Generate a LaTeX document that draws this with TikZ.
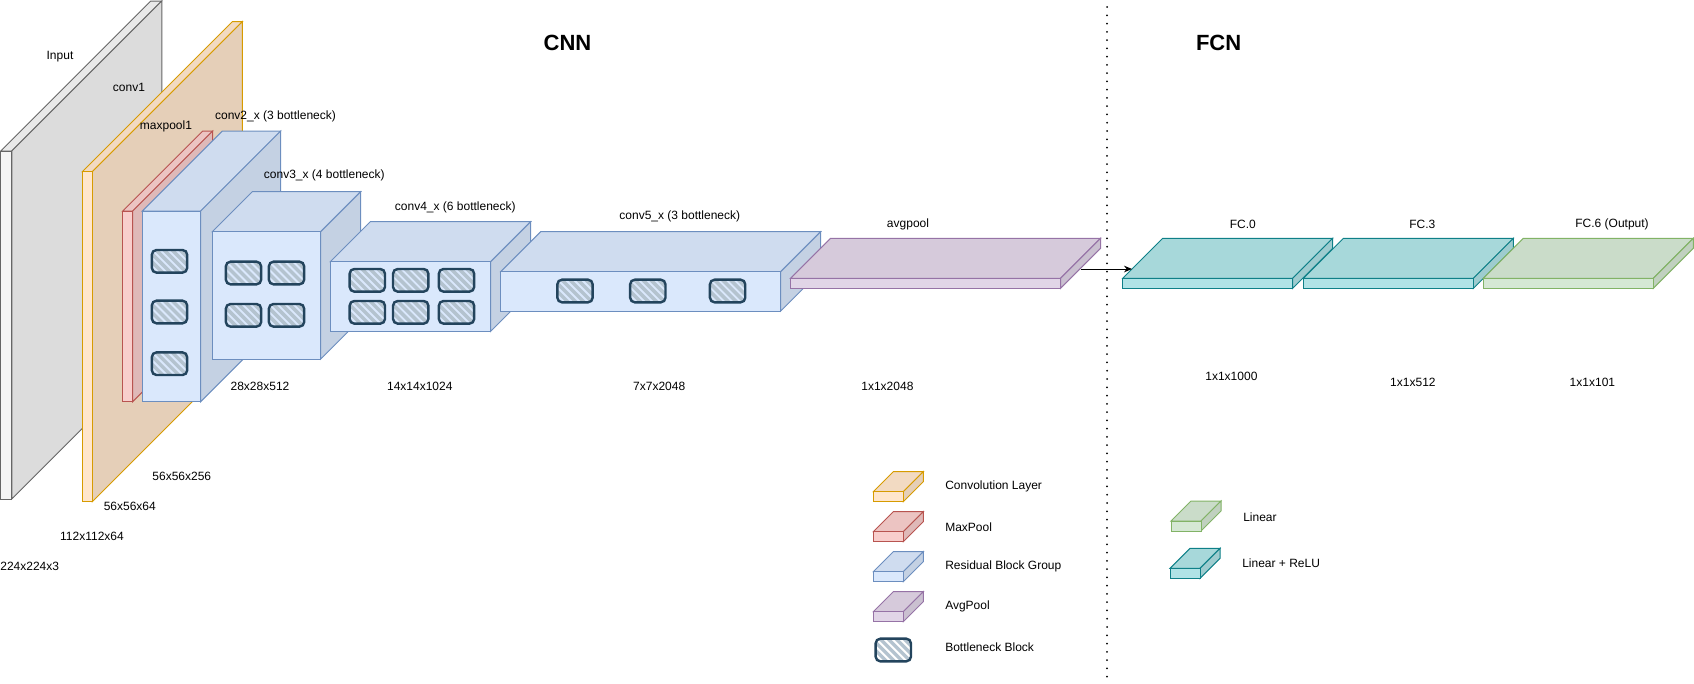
\documentclass[tikz,border=0pt]{standalone}
\usepackage{fontspec}
\setmainfont{Liberation Sans}
\usetikzlibrary{arrows.meta}
\definecolor{inputF}{HTML}{F5F5F5}\definecolor{inputS}{HTML}{666666}
\definecolor{convF}{HTML}{FFE6CC}\definecolor{convS}{HTML}{D79B00}
\definecolor{poolF}{HTML}{F8CECC}\definecolor{poolS}{HTML}{B85450}
\definecolor{resF}{HTML}{DAE8FC}\definecolor{resS}{HTML}{6C8EBF}
\definecolor{avgF}{HTML}{E1D5E7}\definecolor{avgS}{HTML}{9673A6}
\definecolor{fcF}{HTML}{B0E3E6}\definecolor{fcS}{HTML}{0E8088}
\definecolor{linF}{HTML}{D5E8D4}\definecolor{linS}{HTML}{82B366}
\definecolor{bnS}{HTML}{23445D}\definecolor{bnH}{HTML}{B4C3CF}
\tikzset{
  cubeline/.style={line width=0.75pt, line join=miter},
  cubefront/.style={rectangle, inner sep=0pt, outer sep=0pt, line width=0.75pt},
  bneckbox/.style={rectangle, rounded corners=3.5pt, draw=bnS, line width=1.8pt, inner sep=0pt, outer sep=0pt, minimum width=26.5pt, minimum height=17pt},
  stripe/.style={bnH, line width=2.6pt},
  lbl/.style={font=\fontsize{9}{10.8}\selectfont, inner sep=0pt},
  ttl/.style={font=\bfseries\fontsize{16.5}{19}\selectfont, inner sep=0pt},
  sepline/.style={line width=1.5pt, dash pattern=on 0pt off 6.2pt, line cap=round},
  conn/.style={line width=0.75pt, -{Stealth[length=6pt,width=5pt]}}
}
% #1 name, #2 x, #3 y (top-left of front face, px), #4 w, #5 h, #6 depth, #7 fill, #8 stroke
\newcommand{\cubeblk}[8]{%
  \filldraw[fill=#7!95!black, draw=#8, cubeline] (#2,#3) -- ++(#6,-#6) -- ++(#4,0) -- ++(-#6,#6) -- cycle;
  \filldraw[fill=#7!90!black, draw=#8, cubeline] (#2+#4,#3) -- ++(#6,-#6) -- ++(0,#5) -- ++(-#6,#6) -- cycle;
  \node[cubefront, fill=#7, draw=#8, minimum width=#4*0.75pt, minimum height=#5*0.75pt, anchor=north west] (#1) at (#2,#3) {};
}
% bottleneck block: #1 name, #2 cx, #3 cy
\newcommand{\bneck}[3]{%
  \begin{scope}
    \clip[rounded corners=3.5pt] (#2-17.6,#3-11.3) rectangle (#2+17.6,#3+11.3);
    \foreach \k in {-6,...,4} \draw[stripe] (#2+\k*8,#3-14) -- ++(28,28);
  \end{scope}
  \node[bneckbox] (#1) at (#2,#3) {};
}
\begin{document}
\begin{tikzpicture}[x=0.75pt, y=-0.75pt]
\useasboundingbox (0,0) rectangle (1694,683);

% separator
\draw[sepline] (1107,7) -- (1107,683);

% CNN part
\cubeblk{input}{0.75}{151}{11}{348}{150}{inputF}{inputS}
\cubeblk{conv1}{82.3}{171.7}{10}{330}{150}{convF}{convS}
\cubeblk{maxpool}{122.7}{211}{10}{190.7}{80}{poolF}{poolS}
\cubeblk{conv2}{142.3}{211}{58.4}{190.7}{80}{resF}{resS}
\bneck{b21}{169.5}{261.3}
\bneck{b22}{169.5}{312}
\bneck{b23}{169.5}{363.7}
\cubeblk{conv3}{212.3}{231.7}{108.4}{127.3}{40}{resF}{resS}
\bneck{b31}{243.5}{273}
\bneck{b32}{286.5}{273}
\bneck{b33}{243.5}{315.3}
\bneck{b34}{286.5}{315.3}
\cubeblk{conv4}{330.3}{261.7}{160.4}{69.6}{40}{resF}{resS}
\bneck{b41}{367.3}{280.3}
\bneck{b42}{410.7}{280.3}
\bneck{b43}{456.5}{280.3}
\bneck{b44}{367.3}{312.3}
\bneck{b45}{410.7}{312.3}
\bneck{b46}{456.5}{312.3}
\cubeblk{conv5}{500.7}{271.7}{280}{39.3}{40}{resF}{resS}
\bneck{b51}{575}{291}
\bneck{b52}{647.8}{291}
\bneck{b53}{727.6}{291}
\cubeblk{avgpool}{790.5}{278.3}{270}{10}{40}{avgF}{avgS}

% FCN part
\cubeblk{fc0}{1122.7}{278.3}{170}{10}{40}{fcF}{fcS}
\cubeblk{fc3}{1303.4}{278.3}{170}{10}{40}{fcF}{fcS}
\cubeblk{fc6}{1483.3}{278.3}{170}{10}{40}{linF}{linS}

% connector
\coordinate (avgout) at (1081,269);
\coordinate (fcin) at (1132,269);
\draw[conn] (avgout) -- (fcin);

% titles
\node[ttl] (tcnn) at (567.5,43.3) {CNN};
\node[ttl] (tfcn) at (1218.6,43.3) {FCN};

% layer labels
\node[lbl] (linput) at (60,56.7) {Input};
\node[lbl] (lconv1) at (129,87.3) {conv1};
\node[lbl] (lmaxpool) at (166,126.7) {maxpool1};
\node[lbl] (lconv2) at (275.5,116.7) {conv2\_x (3 bottleneck)};
\node[lbl] (lconv3) at (324.3,175) {conv3\_x (4 bottleneck)};
\node[lbl] (lconv4) at (455.3,207.3) {conv4\_x (6 bottleneck)};
\node[lbl] (lconv5) at (679.8,216.7) {conv5\_x (3 bottleneck)};
\node[lbl] (lavg) at (908,224.3) {avgpool};
\node[lbl] (lfc0) at (1242.8,224) {FC.0};
\node[lbl] (lfc3) at (1422.3,224) {FC.3};
\node[lbl] (lfc6) at (1612,224) {FC.6 (Output)};

% size labels
\node[lbl] (s1) at (29.7,566.7) {224x224x3};
\node[lbl] (s2) at (92,536.7) {112x112x64};
\node[lbl] (s3) at (129.8,506.7) {56x56x64};
\node[lbl] (s4) at (181.8,476.7) {56x56x256};
\node[lbl] (s5) at (260,386.7) {28x28x512};
\node[lbl] (s6) at (419.8,386.7) {14x14x1024};
\node[lbl] (s7) at (659.2,386.7) {7x7x2048};
\node[lbl] (s8) at (887.4,386.7) {1x1x2048};
\node[lbl] (s9) at (1231.4,376) {1x1x1000};
\node[lbl] (s10) at (1412.9,382.7) {1x1x512};
\node[lbl] (s11) at (1592.4,382.7) {1x1x101};

% legend
\cubeblk{lgconv}{873.3}{491.7}{30}{10}{20}{convF}{convS}
\cubeblk{lgpool}{873.3}{531.7}{30}{10}{20}{poolF}{poolS}
\cubeblk{lgres}{873.3}{571.7}{30}{10}{20}{resF}{resS}
\cubeblk{lgavg}{873.3}{611.7}{30}{10}{20}{avgF}{avgS}
\bneck{lgbn}{893.3}{650}
\node[lbl, anchor=west] (tlgconv) at (945,486.7) {Convolution Layer};
\node[lbl, anchor=west] (tlgpool) at (945,526.7) {MaxPool};
\node[lbl, anchor=west] (tlgres) at (945,566.7) {Residual Block Group};
\node[lbl, anchor=west] (tlgavg) at (945,606.7) {AvgPool};
\node[lbl, anchor=west] (tlgbn) at (945,646.7) {Bottleneck Block};

\cubeblk{lglin}{1171}{521}{30}{10}{20}{linF}{linS}
\cubeblk{lgfc}{1170}{568.3}{30}{10}{20}{fcF}{fcS}
\node[lbl, anchor=west] (tlglin) at (1243,516.7) {Linear};
\node[lbl, anchor=west] (tlgfc) at (1242,563.3) {Linear + ReLU};
\end{tikzpicture}
\end{document}
